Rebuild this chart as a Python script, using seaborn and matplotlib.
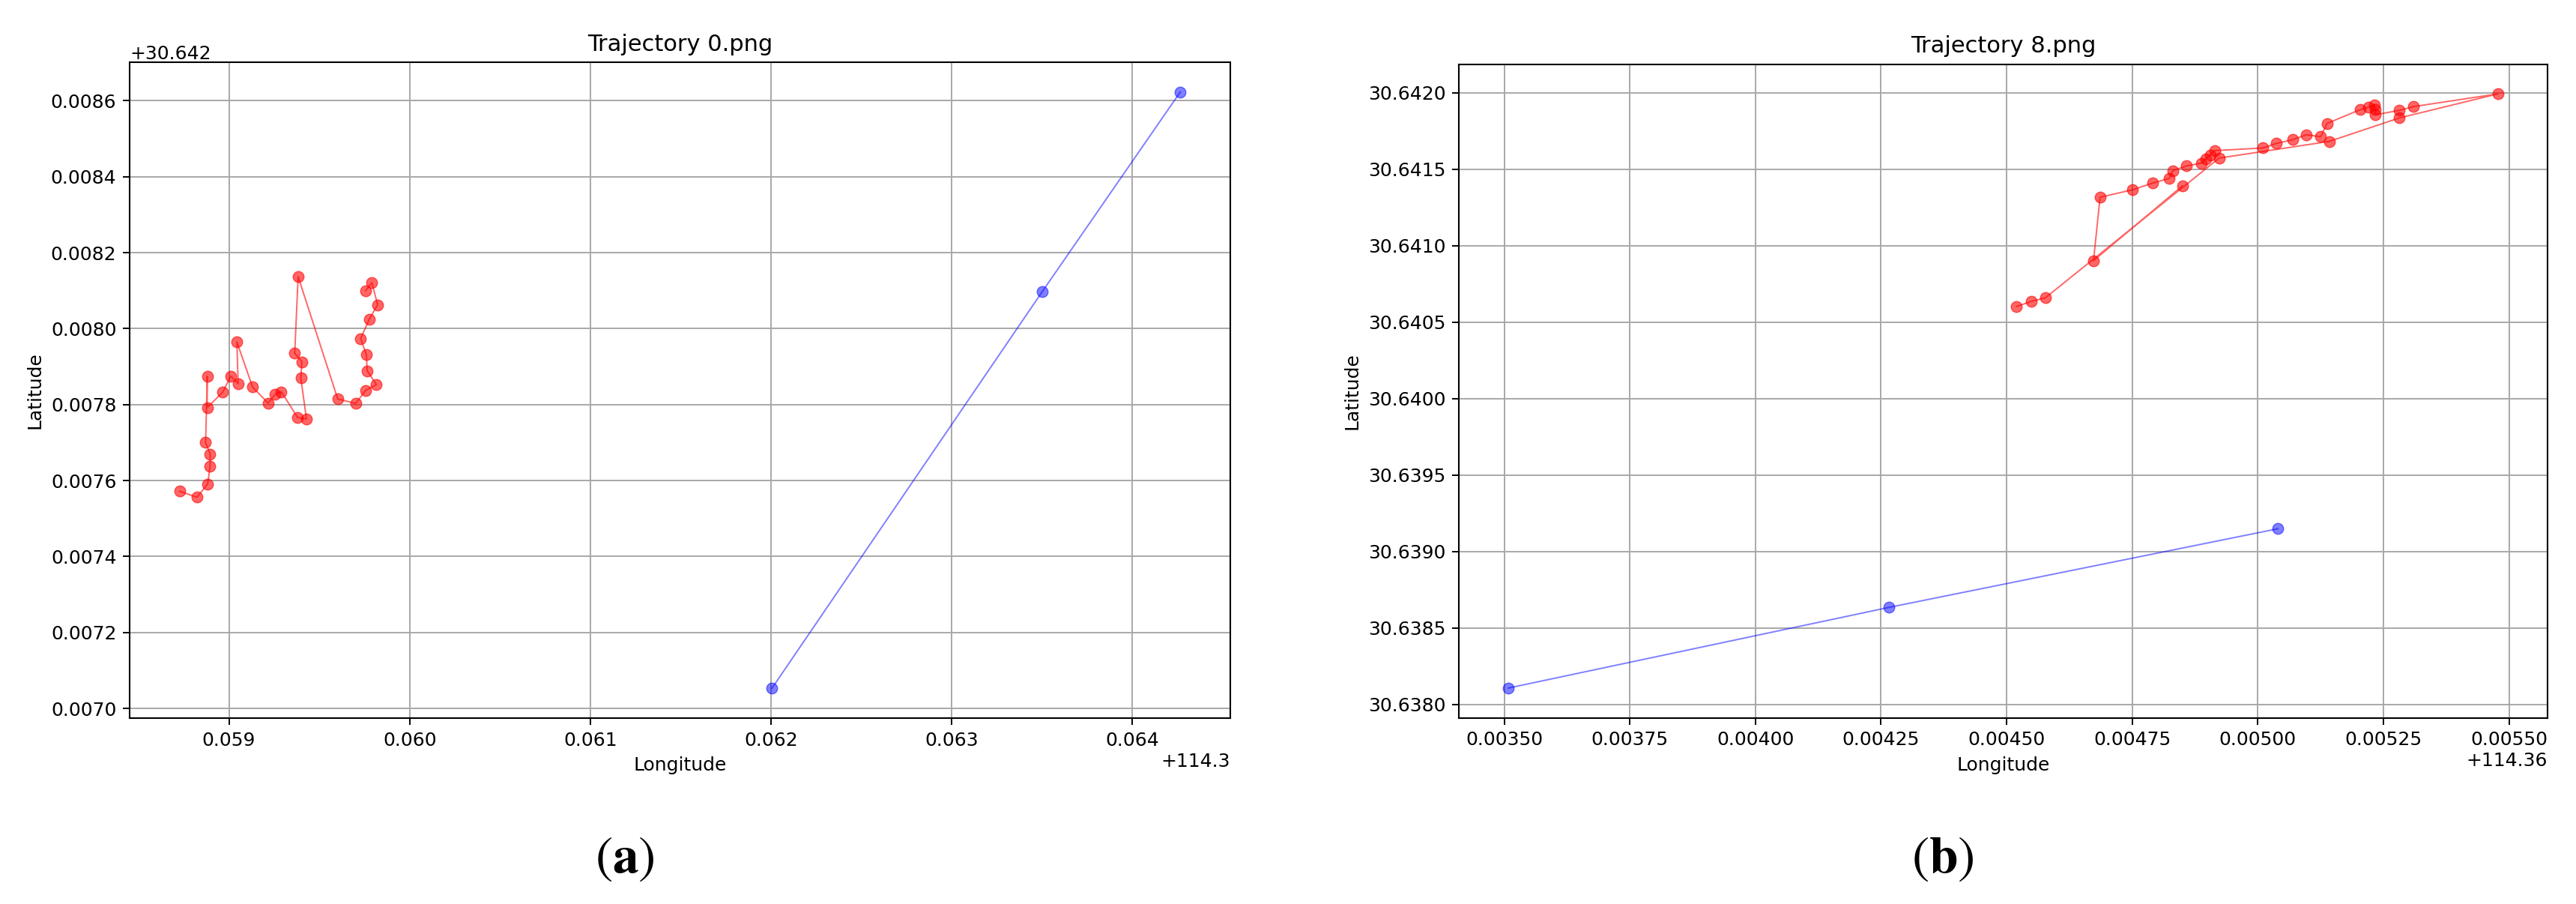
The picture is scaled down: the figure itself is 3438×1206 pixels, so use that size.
import numpy as np
import matplotlib
matplotlib.use('Agg')
import matplotlib.pyplot as plt
import seaborn as sns
from matplotlib.ticker import ScalarFormatter

# Trajectory 0 (red = track, blue = matched points)
lon_0_red = [114.358727, 114.358823, 114.358882, 114.358896, 114.358896, 114.358871,
             114.358880, 114.358880, 114.358966, 114.359010, 114.359051, 114.359044,
             114.359131, 114.359217, 114.359256, 114.359290, 114.359380, 114.359429,
             114.359398, 114.359404, 114.359364, 114.359383, 114.359602, 114.359701,
             114.359756, 114.359816, 114.359765, 114.359761, 114.359729, 114.359777,
             114.359823, 114.359791, 114.359756]
lat_0_red = [30.649572, 30.649556, 30.649591, 30.649638, 30.649670, 30.649700,
             30.649875, 30.649792, 30.649833, 30.649875, 30.649855, 30.649965,
             30.649846, 30.649804, 30.649827, 30.649834, 30.649766, 30.649762,
             30.649870, 30.649913, 30.649935, 30.650137, 30.649815, 30.649803,
             30.649837, 30.649853, 30.649889, 30.649931, 30.649974, 30.650025,
             30.650063, 30.650121, 30.650100]
lon_0_blue = [114.362005, 114.363502, 114.364265]
lat_0_blue = [30.649053, 30.650098, 30.650623]

# Trajectory 8
lon_8_red = [114.364850, 114.364673, 114.364686, 114.364751, 114.364790, 114.364824,
             114.364831, 114.364858, 114.364888, 114.364897, 114.364905, 114.364914,
             114.365010, 114.365037, 114.365069, 114.365097, 114.365125, 114.365138,
             114.365204, 114.365221, 114.365232, 114.365234, 114.365234, 114.365282,
             114.365310, 114.365478, 114.365282, 114.365142, 114.364923, 114.364577,
             114.364549, 114.364520]
lat_8_red = [30.641392, 30.640902, 30.641317, 30.641366, 30.641409, 30.641441,
             30.641491, 30.641522, 30.641540, 30.641568, 30.641593, 30.641622,
             30.641639, 30.641669, 30.641693, 30.641726, 30.641713, 30.641800,
             30.641890, 30.641907, 30.641923, 30.641893, 30.641857, 30.641885,
             30.641910, 30.641993, 30.641836, 30.641682, 30.641573, 30.640659,
             30.640636, 30.640603]
lon_8_blue = [114.363508, 114.364265, 114.365040]
lat_8_blue = [30.638107, 30.638634, 30.639149]

titles = ['Trajectory 0.png', 'Trajectory 8.png']
panel_labels = ['a', 'b']

plt.rcParams['mathtext.fontset'] = 'stix'
plt.rcParams['font.family'] = 'DejaVu Sans'


# offset shown as plain decimal (e.g. +114.3) instead of 1.143e2
class PlainOffset(ScalarFormatter):
    def __init__(self, offset, text):
        super().__init__(useOffset=offset)
        self.text = text

    def get_offset(self):
        return self.text


fig = plt.figure(figsize=(34.38, 12.06), dpi=100)
ax_a = fig.add_axes([0.0503, 0.2056, 0.4273, 0.7256])
ax_b = fig.add_axes([0.5663, 0.2060, 0.4226, 0.7230])


def draw_traj(ax, lon_r, lat_r, lon_b, lat_b, title):
    sns.lineplot(x=lon_r, y=lat_r, sort=False, estimator=None, ax=ax,
                 color='red', alpha=0.6, linewidth=1.4, marker='o',
                 markersize=10.5, markeredgecolor='red', markeredgewidth=1)
    sns.lineplot(x=lon_b, y=lat_b, sort=False, estimator=None, ax=ax,
                 color='blue', alpha=0.5, linewidth=1.4, marker='o',
                 markersize=10.5, markeredgecolor='blue', markeredgewidth=1)
    ax.set_title(title, fontsize=22, pad=11)
    ax.set_xlabel('Longitude', fontsize=18, labelpad=7)
    ax.set_ylabel('Latitude', fontsize=18, labelpad=7)
    ax.grid(True, color='#a8a8a8', linewidth=1.4)
    ax.set_axisbelow(True)
    ax.tick_params(labelsize=18, length=6.3, width=1.4, pad=6.3)
    for s in ax.spines.values():
        s.set_linewidth(1.5)
        s.set_color('black')


draw_traj(ax_a, lon_0_red, lat_0_red, lon_0_blue, lat_0_blue, titles[0])
draw_traj(ax_b, lon_8_red, lat_8_red, lon_8_blue, lat_8_blue, titles[1])

ax_a.xaxis.set_major_formatter(PlainOffset(114.3, '+114.3'))
ax_a.yaxis.set_major_formatter(PlainOffset(30.642, '+30.642'))
ax_b.xaxis.set_major_formatter(PlainOffset(114.36, '+114.36'))
ax_b.yaxis.set_major_formatter(ScalarFormatter(useOffset=False))
for ax in (ax_a, ax_b):
    ax.xaxis.get_offset_text().set_fontsize(18)
    ax.yaxis.get_offset_text().set_fontsize(18)

# panel letters
for xpos, lab in zip([834 / 3438, 2593 / 3438], panel_labels):
    fig.text(xpos, 1 - 1147 / 1206, '($\\mathbf{' + lab + '}$)', fontsize=50,
             family='STIXGeneral', ha='center', va='center')

fig.savefig('out.png', dpi=100, facecolor='white')
